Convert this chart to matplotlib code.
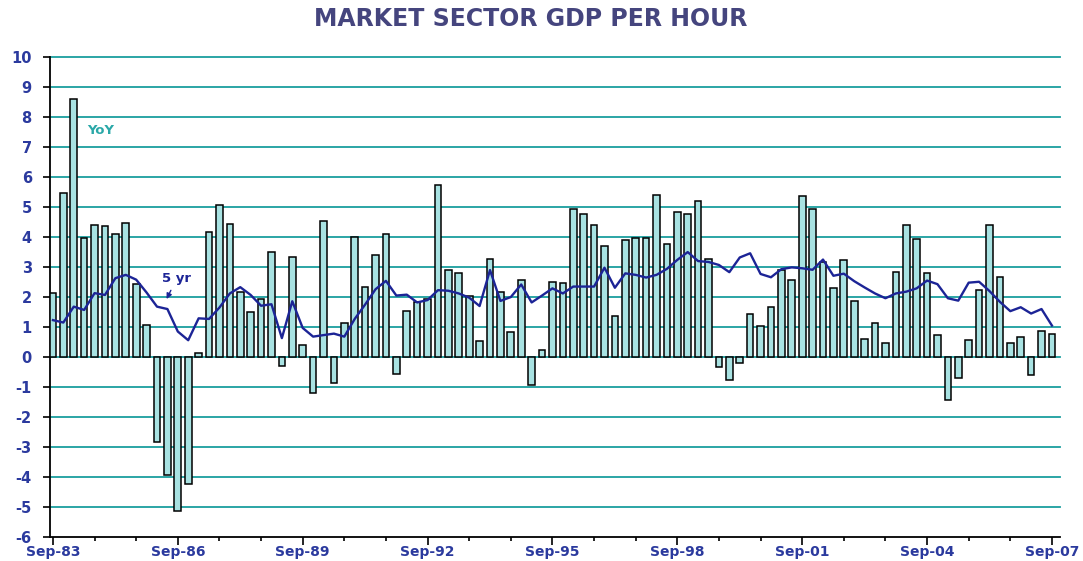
import numpy as np
import matplotlib
matplotlib.use("Agg")
import matplotlib.pyplot as plt

plt.rcParams["axes.unicode_minus"] = False

# quarterly, Sep-83 .. Sep-07
yoy = [2.13, 5.46, 8.59, 3.98, 4.40, 4.37, 4.09, 4.46, 2.44, 1.06,
       -2.85, -3.95, -5.15, -4.23, 0.14, 4.17, 5.08, 4.45, 2.16, 1.49,
       1.94, 3.49, -0.30, 3.33, 0.39, -1.20, 4.54, -0.87, 1.15, 4.01,
       2.32, 3.39, 4.11, -0.58, 1.54, 1.82, 1.93, 5.75, 2.90, 2.79,
       2.03, 0.54, 3.27, 2.16, 0.82, 2.57, -0.93, 0.22, 2.51, 2.46,
       4.94, 4.78, 4.39, 3.71, 1.36, 3.91, 3.96, 3.96, 5.42, 3.77,
       4.84, 4.78, 5.22, 3.27, -0.33, -0.78, -0.20, 1.45, 1.03, 1.68,
       2.90, 2.57, 5.36, 4.94, 3.18, 2.29, 3.24, 1.88, 0.61, 1.15,
       0.48, 2.85, 4.39, 3.94, 2.79, 0.73, -1.42, -0.69, 0.58, 2.23,
       4.41, 2.66, 0.48, 0.67, -0.59, 0.87, 0.76]

five_yr = [1.23, 1.15, 1.68, 1.57, 2.13, 2.07, 2.63, 2.74, 2.58, 2.15,
           1.68, 1.60, 0.85, 0.56, 1.29, 1.27, 1.65, 2.12, 2.33, 2.07,
           1.71, 1.76, 0.63, 1.86, 0.97, 0.68, 0.73, 0.78, 0.68, 1.27,
           1.75, 2.26, 2.54, 2.05, 2.08, 1.82, 1.90, 2.23, 2.21, 2.12,
           1.98, 1.70, 2.90, 1.87, 2.00, 2.42, 1.82, 2.05, 2.29, 2.12,
           2.35, 2.35, 2.35, 2.98, 2.31, 2.79, 2.74, 2.65, 2.74, 2.94,
           3.24, 3.50, 3.20, 3.17, 3.07, 2.83, 3.32, 3.46, 2.77, 2.66,
           2.93, 2.99, 2.96, 2.91, 3.25, 2.71, 2.78, 2.53, 2.32, 2.12,
           1.96, 2.12, 2.18, 2.29, 2.55, 2.43, 1.96, 1.88, 2.48, 2.51,
           2.20, 1.84, 1.53, 1.66, 1.45, 1.60, 1.05]

year_labels = ["Sep-83", "Sep-86", "Sep-89", "Sep-92", "Sep-95",
               "Sep-98", "Sep-01", "Sep-04", "Sep-07"]

x = np.arange(len(yoy))

grid_c = "#1a9e9e"
bar_c = "#a8e2e2"
line_c = "#1c2496"
lab_c = "#2b3a9e"

fig = plt.figure(figsize=(10.83, 5.61), dpi=100)
ax = fig.add_axes([0.046, 0.043, 0.933, 0.855])

ax.bar(x, yoy, width=0.64, color=bar_c, edgecolor="black", linewidth=1.1, zorder=3)
ax.plot(x, five_yr, color=line_c, linewidth=1.7, zorder=4)

ax.set_ylim(-6, 10)
ax.set_xlim(-0.3, 96.8)
ax.set_yticks(range(-6, 11))
for v in range(-5, 11):
    ax.axhline(v, color=grid_c, linewidth=1.3, zorder=1, clip_on=False)

ax.set_xticks(np.arange(0, 97, 12))
ax.set_xticklabels(year_labels)
ax.set_xticks([k for k in range(0, 97, 4) if k % 12], minor=True)

for s in ["top", "right"]:
    ax.spines[s].set_visible(False)
ax.spines["left"].set_linewidth(1.3)
ax.spines["bottom"].set_linewidth(1.3)

ax.tick_params(axis="y", length=5, width=1.2, pad=8, labelsize=10.5, labelcolor=lab_c)
ax.tick_params(axis="x", which="major", length=5.5, width=1.2, pad=0.5, labelsize=10, labelcolor=lab_c)
ax.tick_params(axis="x", which="minor", length=3, width=1.2)
for t in ax.get_xticklabels() + ax.get_yticklabels():
    t.set_fontweight("bold")

ax.text(3.3, 7.45, "YoY", color="#2aa8a8", fontsize=9.5, fontweight="bold")
ax.annotate("5 yr", xy=(10.8, 1.85), xytext=(10.5, 2.5), color=line_c,
            fontsize=9.5, fontweight="bold",
            arrowprops=dict(arrowstyle="-|>", color=line_c, lw=1, mutation_scale=8))

fig.text(0.49, 0.967, "MARKET SECTOR GDP PER HOUR", ha="center", va="center",
         fontsize=17, fontweight="bold", color="#45457e")

fig.savefig("out.png", dpi=100)
